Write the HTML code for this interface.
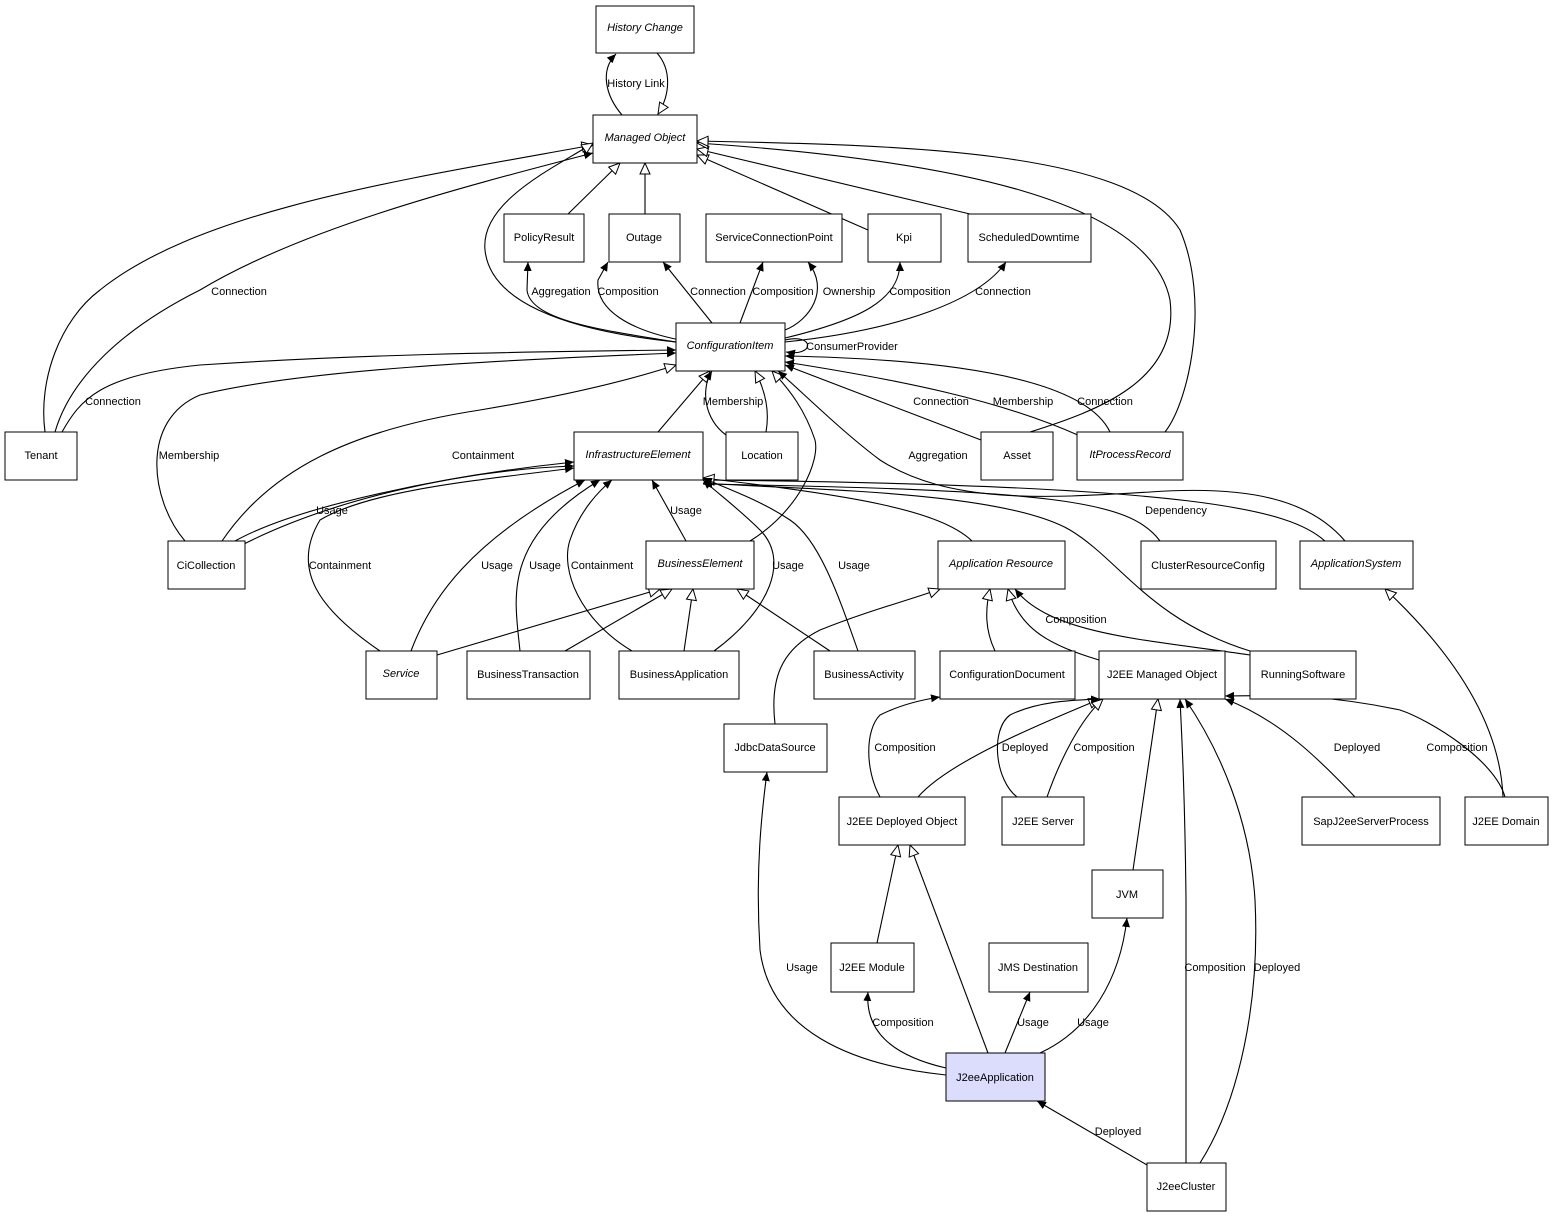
<!DOCTYPE html>
<html><head><meta charset="utf-8"><style>
html,body{margin:0;padding:0;background:#fff;}
svg{display:block;}
text{font-family:"Liberation Sans",Arial,sans-serif;font-size:11px;fill:#000;}
.n{fill:#fff;stroke:#000;stroke-width:1;}
.e{fill:none;stroke:#000;stroke-width:1.1;}
</style></head><body>
<svg width="1553" height="1217" viewBox="0 0 1553 1217" xmlns="http://www.w3.org/2000/svg">
<defs>
<marker id="a" markerUnits="userSpaceOnUse" markerWidth="10" markerHeight="8" refX="9" refY="4" orient="auto"><path d="M0,0 L9,4 L0,8 Z" fill="#000"/></marker>
<marker id="t" markerUnits="userSpaceOnUse" markerWidth="14" markerHeight="12" refX="12" refY="6" orient="auto"><path d="M1,1 L12,6 L1,11 Z" fill="#fff" stroke="#000" stroke-width="1"/></marker>
</defs>

<!-- edges -->
<g class="e">
<path marker-end="url(#a)" d="M622,115 C605,95 600,70 616,54"/>
<path marker-end="url(#t)" d="M657,53 C672,70 670,95 658,114"/>
<path marker-end="url(#t)" d="M568,214 L620,163"/>
<path marker-end="url(#t)" d="M645,214 L645,163"/>
<path marker-end="url(#t)" d="M868,230 L697,155"/>
<path marker-end="url(#t)" d="M970,214 L697,149"/>
<path marker-end="url(#t)" d="M45,432 C38,380 60,320 100,290 C200,210 400,180 593,145"/>
<path marker-end="url(#a)" d="M55,432 C70,380 120,330 200,290 C300,230 450,190 593,153"/>
<path marker-end="url(#t)" d="M1030,432 C1100,410 1180,380 1170,300 C1150,200 950,160 697,143"/>
<path marker-end="url(#t)" d="M1165,432 C1190,400 1210,300 1180,230 C1130,150 900,145 697,141"/>
<path marker-end="url(#t)" d="M676,342 C560,330 490,300 485,250 C480,200 560,165 593,143"/>
<path marker-end="url(#a)" d="M676,342 C600,330 530,320 527,290 L528,262"/>
<path marker-end="url(#a)" d="M680,340 C630,330 595,310 598,280 L608,262"/>
<path marker-end="url(#a)" d="M712,323 L663,262"/>
<path marker-end="url(#a)" d="M740,323 L763,262"/>
<path marker-end="url(#a)" d="M785,330 C810,320 830,290 808,262"/>
<path marker-end="url(#a)" d="M785,338 C860,320 900,300 900,262"/>
<path marker-end="url(#a)" d="M785,342 C900,330 980,300 1006,262"/>
<path marker-end="url(#a)" d="M785,340 C815,333 815,357 786,352"/>
<path marker-end="url(#a)" d="M62,432 C80,400 100,375 200,365 C350,355 500,352 676,350"/>
<path marker-end="url(#a)" d="M185,541 C150,500 140,420 200,395 C300,370 500,360 676,353"/>
<path marker-end="url(#t)" d="M222,541 C270,470 350,430 480,410 C570,395 630,380 676,365"/>
<path marker-end="url(#a)" d="M235,541 C300,505 450,475 574,462"/>
<path marker-end="url(#a)" d="M242,545 C330,500 460,470 574,466"/>
<path marker-end="url(#t)" d="M658,432 L710,371"/>
<path marker-end="url(#a)" d="M726,435 C705,420 700,390 712,371"/>
<path marker-end="url(#t)" d="M766,432 C770,410 765,390 755,371"/>
<path marker-end="url(#a)" d="M981,440 L785,365"/>
<path marker-end="url(#a)" d="M1080,436 C1000,400 900,380 785,362"/>
<path marker-end="url(#a)" d="M1110,432 C1090,390 1000,360 785,356"/>
<path marker-end="url(#t)" d="M750,541 C800,510 820,460 815,440 C805,410 790,390 772,371"/>
<path marker-end="url(#a)" d="M1345,541 C1310,500 1250,485 1150,492 C1050,498 950,505 880,460 C840,430 800,390 778,371"/>
<path marker-end="url(#a)" d="M1160,541 C1130,500 1050,490 703,484"/>
<path marker-end="url(#t)" d="M1325,541 C1290,510 1200,485 703,480"/>
<path marker-end="url(#a)" d="M1250,651 C1150,620 1120,560 1070,530 C1000,490 800,490 703,483"/>
<path marker-end="url(#a)" d="M1250,655 C1150,640 1050,635 1015,589"/>
<path marker-end="url(#t)" d="M972,541 C940,510 850,495 703,478"/>
<path marker-end="url(#a)" d="M686,541 L652,480"/>
<path marker-end="url(#a)" d="M380,651 C320,610 290,570 320,520 C370,490 480,480 574,468"/>
<path marker-end="url(#a)" d="M411,651 C430,600 470,540 585,480"/>
<path marker-end="url(#a)" d="M520,651 C515,600 500,540 600,480"/>
<path marker-end="url(#a)" d="M632,651 C580,620 560,570 570,540 C580,510 600,490 612,480"/>
<path marker-end="url(#a)" d="M714,651 C770,610 790,560 760,530 C740,510 720,495 703,480"/>
<path marker-end="url(#a)" d="M858,651 C840,600 820,540 790,520 C760,500 730,490 703,478"/>
<path marker-end="url(#t)" d="M437,655 L660,589"/>
<path marker-end="url(#t)" d="M565,651 L672,589"/>
<path marker-end="url(#t)" d="M684,651 L693,589"/>
<path marker-end="url(#t)" d="M830,651 L737,589"/>
<path marker-end="url(#t)" d="M775,724 C770,680 780,650 820,630 C870,610 910,600 940,589"/>
<path marker-end="url(#t)" d="M995,651 C985,630 985,610 990,589"/>
<path marker-end="url(#t)" d="M1099,660 C1050,645 1020,630 1008,589"/>
<path marker-end="url(#a)" d="M880,797 C865,770 865,730 880,715 C900,705 920,700 940,697"/>
<path marker-end="url(#t)" d="M918,797 C950,760 1050,720 1100,699"/>
<path marker-end="url(#a)" d="M1017,797 C995,780 990,730 1010,715 C1040,700 1080,700 1100,699"/>
<path marker-end="url(#t)" d="M1047,797 C1060,760 1080,720 1103,699"/>
<path marker-end="url(#t)" d="M1133,870 L1158,699"/>
<path marker-end="url(#a)" d="M1186,1163 L1186,900 C1185,800 1182,740 1180,699"/>
<path marker-end="url(#a)" d="M1200,1163 C1240,1100 1260,1000 1255,900 C1250,820 1220,750 1185,699"/>
<path marker-end="url(#a)" d="M1355,797 C1320,760 1280,720 1225,699"/>
<path marker-end="url(#a)" d="M1505,797 C1495,760 1430,720 1400,710 C1330,695 1280,695 1225,696"/>
<path marker-end="url(#t)" d="M1503,797 C1500,720 1450,650 1385,589"/>
<path marker-end="url(#t)" d="M877,943 L898,845"/>
<path marker-end="url(#t)" d="M988,1053 L910,845"/>
<path marker-end="url(#a)" d="M946,1075 C850,1065 770,1030 760,950 C755,870 762,810 767,772"/>
<path marker-end="url(#a)" d="M946,1068 C890,1055 865,1030 868,992"/>
<path marker-end="url(#a)" d="M1005,1053 L1030,992"/>
<path marker-end="url(#a)" d="M1040,1053 C1090,1030 1120,980 1127,918"/>
<path marker-end="url(#a)" d="M1147,1165 L1037,1101"/>
</g>

<!-- edge labels -->
<g text-anchor="middle">
<text x="636" y="87">History Link</text>
<text x="239" y="295">Connection</text>
<text x="561" y="295">Aggregation</text>
<text x="628" y="295">Composition</text>
<text x="718" y="295">Connection</text>
<text x="783" y="295">Composition</text>
<text x="849" y="295">Ownership</text>
<text x="920" y="295">Composition</text>
<text x="1003" y="295">Connection</text>
<text x="852" y="350">ConsumerProvider</text>
<text x="113" y="405">Connection</text>
<text x="733" y="405">Membership</text>
<text x="941" y="405">Connection</text>
<text x="1023" y="405">Membership</text>
<text x="1105" y="405">Connection</text>
<text x="189" y="459">Membership</text>
<text x="483" y="459">Containment</text>
<text x="938" y="459">Aggregation</text>
<text x="332" y="514">Usage</text>
<text x="686" y="514">Usage</text>
<text x="1176" y="514">Dependency</text>
<text x="340" y="569">Containment</text>
<text x="497" y="569">Usage</text>
<text x="545" y="569">Usage</text>
<text x="602" y="569">Containment</text>
<text x="788" y="569">Usage</text>
<text x="854" y="569">Usage</text>
<text x="1076" y="623">Composition</text>
<text x="905" y="751">Composition</text>
<text x="1025" y="751">Deployed</text>
<text x="1104" y="751">Composition</text>
<text x="1357" y="751">Deployed</text>
<text x="1457" y="751">Composition</text>
<text x="802" y="971">Usage</text>
<text x="1215" y="971">Composition</text>
<text x="1277" y="971">Deployed</text>
<text x="903" y="1026">Composition</text>
<text x="1033" y="1026">Usage</text>
<text x="1093" y="1026">Usage</text>
<text x="1118" y="1135">Deployed</text>
</g>

<!-- nodes -->
<g>
<rect class="n" x="596" y="6" width="98" height="47"/>
<rect class="n" x="593" y="115" width="104" height="48"/>
<rect class="n" x="504" y="214" width="80" height="48"/>
<rect class="n" x="609" y="214" width="71" height="48"/>
<rect class="n" x="706" y="214" width="136" height="48"/>
<rect class="n" x="868" y="214" width="73" height="48"/>
<rect class="n" x="968" y="214" width="123" height="48"/>
<rect class="n" x="676" y="323" width="109" height="48"/>
<rect class="n" x="5" y="432" width="72" height="48"/>
<rect class="n" x="574" y="432" width="129" height="48"/>
<rect class="n" x="726" y="432" width="72" height="48"/>
<rect class="n" x="981" y="432" width="72" height="48"/>
<rect class="n" x="1077" y="432" width="106" height="48"/>
<rect class="n" x="168" y="541" width="77" height="48"/>
<rect class="n" x="646" y="541" width="108" height="48"/>
<rect class="n" x="938" y="541" width="127" height="48"/>
<rect class="n" x="1141" y="541" width="135" height="48"/>
<rect class="n" x="1300" y="541" width="113" height="48"/>
<rect class="n" x="366" y="651" width="71" height="48"/>
<rect class="n" x="467" y="651" width="123" height="48"/>
<rect class="n" x="619" y="651" width="120" height="48"/>
<rect class="n" x="814" y="651" width="101" height="48"/>
<rect class="n" x="940" y="651" width="135" height="48"/>
<rect class="n" x="1099" y="651" width="126" height="48"/>
<rect class="n" x="1250" y="651" width="106" height="48"/>
<rect class="n" x="724" y="724" width="103" height="48"/>
<rect class="n" x="839" y="797" width="126" height="48"/>
<rect class="n" x="1002" y="797" width="82" height="48"/>
<rect class="n" x="1302" y="797" width="138" height="48"/>
<rect class="n" x="1465" y="797" width="83" height="48"/>
<rect class="n" x="1092" y="870" width="71" height="48"/>
<rect class="n" x="831" y="943" width="83" height="49"/>
<rect class="n" x="989" y="943" width="99" height="49"/>
<rect x="946" y="1053" width="99" height="48" fill="#dcdcfc" stroke="#000"/>
<rect class="n" x="1147" y="1163" width="79" height="48"/>
</g>
<g text-anchor="middle">
<text x="645" y="31" font-style="italic">History Change</text>
<text x="645" y="141" font-style="italic">Managed Object</text>
<text x="544" y="241">PolicyResult</text>
<text x="644" y="241">Outage</text>
<text x="774" y="241">ServiceConnectionPoint</text>
<text x="904" y="241">Kpi</text>
<text x="1029" y="241">ScheduledDowntime</text>
<text x="730" y="349" font-style="italic">ConfigurationItem</text>
<text x="41" y="459">Tenant</text>
<text x="638" y="458" font-style="italic">InfrastructureElement</text>
<text x="762" y="459">Location</text>
<text x="1017" y="459">Asset</text>
<text x="1130" y="458" font-style="italic">ItProcessRecord</text>
<text x="206" y="569">CiCollection</text>
<text x="700" y="567" font-style="italic">BusinessElement</text>
<text x="1001" y="567" font-style="italic">Application Resource</text>
<text x="1208" y="569">ClusterResourceConfig</text>
<text x="1356" y="567" font-style="italic">ApplicationSystem</text>
<text x="401" y="677" font-style="italic">Service</text>
<text x="528" y="678">BusinessTransaction</text>
<text x="679" y="678">BusinessApplication</text>
<text x="864" y="678">BusinessActivity</text>
<text x="1007" y="678">ConfigurationDocument</text>
<text x="1162" y="678">J2EE Managed Object</text>
<text x="1303" y="678">RunningSoftware</text>
<text x="775" y="751">JdbcDataSource</text>
<text x="902" y="825">J2EE Deployed Object</text>
<text x="1043" y="825">J2EE Server</text>
<text x="1371" y="825">SapJ2eeServerProcess</text>
<text x="1506" y="825">J2EE Domain</text>
<text x="1127" y="898">JVM</text>
<text x="872" y="971">J2EE Module</text>
<text x="1038" y="971">JMS Destination</text>
<text x="995" y="1081">J2eeApplication</text>
<text x="1186" y="1190">J2eeCluster</text>
</g>
</svg>
</body></html>
